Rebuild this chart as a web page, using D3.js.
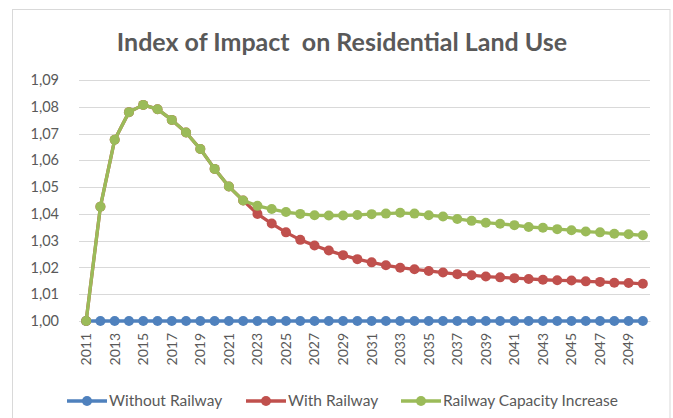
<!DOCTYPE html>
<html>
<head>
<meta charset="utf-8">
<script src="https://cdn.jsdelivr.net/npm/d3@7"></script>
<style>
  body { margin: 0; background: #fff; }
  text { font-family: Lato, "Open Sans", sans-serif; fill: #595959; }
</style>
</head>
<body>
<svg id="chart" width="673" height="418"></svg>
<script>
// Years on the category axis
const years = d3.range(2011, 2051);

// Index values per year
const withoutRailway = years.map(() => 1.000);

const withRailway = [
  1.0000, 1.0427, 1.0677, 1.0780, 1.0807, 1.0791, 1.0751, 1.0704, 1.0642, 1.0568,
  1.0502, 1.0450, 1.0400, 1.0364, 1.0331, 1.0303, 1.0282, 1.0263, 1.0246, 1.0231,
  1.0219, 1.0208, 1.0199, 1.0193, 1.0187, 1.0181, 1.0175, 1.0171, 1.0166, 1.0163,
  1.0160, 1.0157, 1.0154, 1.0152, 1.0151, 1.0148, 1.0146, 1.0143, 1.0142, 1.0139
];

const capacityIncrease = [
  1.0000, 1.0427, 1.0677, 1.0780, 1.0807, 1.0791, 1.0751, 1.0704, 1.0642, 1.0568,
  1.0502, 1.0450, 1.0430, 1.0418, 1.0407, 1.0400, 1.0395, 1.0394, 1.0394, 1.0396,
  1.0399, 1.0401, 1.0404, 1.0401, 1.0395, 1.0390, 1.0381, 1.0374, 1.0367, 1.0363,
  1.0358, 1.0351, 1.0348, 1.0343, 1.0339, 1.0334, 1.0331, 1.0326, 1.0324, 1.0320
];

const yTicks = [1.00, 1.01, 1.02, 1.03, 1.04, 1.05, 1.06, 1.07, 1.08, 1.09];

const series = [
  { name: "Without Railway", values: withoutRailway, color: "#4F81BD" },
  { name: "With Railway", values: withRailway, color: "#C0504D" },
  { name: "Railway Capacity Increase", values: capacityIncrease, color: "#9BBB59" }
];

const svg = d3.select("#chart");

// Outer chart frame
svg.append("rect")
  .attr("x", 12.5).attr("y", 9.5)
  .attr("width", 657.5).attr("height", 420)
  .attr("fill", "#fff").attr("stroke", "#D9D9D9").attr("stroke-width", 1);

// Title
svg.append("text")
  .attr("x", 342).attr("y", 51)
  .attr("text-anchor", "middle")
  .style("font-size", "25px").style("font-weight", "bold")
  .style("white-space", "pre")
  .text("Index of Impact  on Residential Land Use");

const x = d3.scaleBand().domain(years).range([79, 650]).paddingInner(0).paddingOuter(0);
const y = d3.scaleLinear().domain([1.00, 1.09]).range([321, 80]);
const cx = d => x(d) + x.bandwidth() / 2;

// Horizontal gridlines
svg.append("g")
  .selectAll("line")
  .data(yTicks)
  .join("line")
  .attr("x1", 79).attr("x2", 650)
  .attr("y1", d => Math.round(y(d)) + 0.5).attr("y2", d => Math.round(y(d)) + 0.5)
  .attr("stroke", "#D9D9D9").attr("stroke-width", 1);

// Value axis labels
const yAxis = d3.axisLeft(y)
  .tickValues(yTicks)
  .tickSize(0)
  .tickPadding(0)
  .tickFormat(d => d3.format(".2f")(d).replace(".", ","));
const gy = svg.append("g").attr("transform", "translate(59,0)").call(yAxis);
gy.select(".domain").remove();
gy.selectAll("text").style("font-size", "14.5px").attr("fill", "#595959");

// Category axis labels, every second year, rotated
const xAxis = d3.axisBottom(x)
  .tickValues(years.filter((d, i) => i % 2 === 0))
  .tickSize(0)
  .tickFormat(d3.format("d"));
const gx = svg.append("g").attr("transform", "translate(0,321)").call(xAxis);
gx.select(".domain").attr("stroke", "#D9D9D9");
gx.selectAll("text")
  .style("font-size", "14px")
  .attr("fill", "#595959")
  .attr("text-anchor", "end")
  .attr("dy", "0.35em")
  .attr("transform", "translate(0,12) rotate(-90)")
  .attr("x", 0).attr("y", 0);

// Lines with circular markers
const line = d3.line().x((d, i) => cx(years[i])).y(d => y(d));

series.forEach(s => {
  const g = svg.append("g");
  g.append("path")
    .datum(s.values)
    .attr("d", line)
    .attr("fill", "none")
    .attr("stroke", s.color)
    .attr("stroke-width", 3.3)
    .attr("stroke-linejoin", "round");
  g.selectAll("circle")
    .data(s.values)
    .join("circle")
    .attr("cx", (d, i) => cx(years[i]))
    .attr("cy", d => y(d))
    .attr("r", 5)
    .attr("fill", s.color);
});

// Legend
const legendX = [67, 246, 401];
const legend = svg.append("g");
series.forEach((s, i) => {
  const g = legend.append("g").attr("transform", `translate(${legendX[i]},401)`);
  g.append("line").attr("x1", 0).attr("x2", 40).attr("y1", 0).attr("y2", 0)
    .attr("stroke", s.color).attr("stroke-width", 3.3);
  g.append("circle").attr("cx", 20).attr("cy", 0).attr("r", 5).attr("fill", s.color);
  g.append("text").attr("x", 42).attr("y", 0).attr("dy", "0.35em")
    .style("font-size", "15.5px")
    .text(s.name);
});
</script>
</body>
</html>
